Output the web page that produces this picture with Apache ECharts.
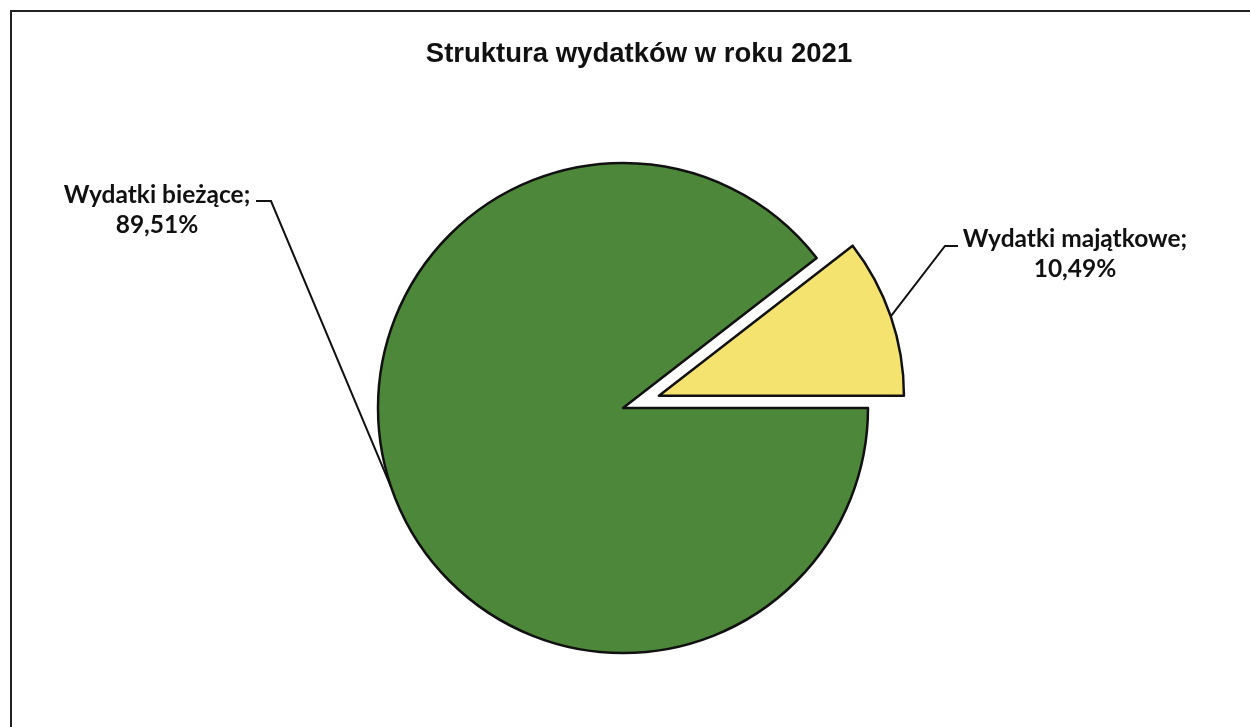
<!DOCTYPE html>
<html>
<head>
<meta charset="utf-8">
<script src="https://cdn.jsdelivr.net/npm/echarts@6/dist/echarts.min.js"></script>
<style>
html,body{margin:0;padding:0;background:#fff;}
#chart{width:1250px;height:727px;}
</style>
</head>
<body>
<div id="chart"></div>
<script>
// ---- data ----
const titleText = 'Struktura wydatków w roku 2021';
const categories = ['Wydatki bieżące', 'Wydatki majątkowe'];
const values = [89.51, 10.49];
const colors = ['#4d883a', '#f4e36f'];
const exploded = [false, true];

// ---- layout (positions / sizes only) ----
const pieCenter = [623, 408];
const pieRadius = 245;
const explodeDist = 38;
const startAngle = 0;
const labelPos = [
  {x: 157, y: 210, knee: [271, 201], end: [256, 201]},
  {x: 1075, y: 254, knee: [945, 246], end: [958, 246]}
];

const chart = echarts.init(document.getElementById('chart'), null, {renderer: 'canvas'});

const total = values.reduce((a, b) => a + b, 0);

function explodeCenter(idx) {
  // clockwise from startAngle
  let before = 0;
  for (let i = 0; i < idx; i++) before += values[i];
  const midFrac = (before + values[idx] / 2) / total;
  const ang = (startAngle - midFrac * 360) * Math.PI / 180;
  return [pieCenter[0] + explodeDist * Math.cos(ang), pieCenter[1] - explodeDist * Math.sin(ang)];
}

function makeSeries(showIdx, center) {
  return {
    type: 'pie',
    center: center,
    radius: pieRadius,
    startAngle: startAngle,
    clockwise: true,
    avoidLabelOverlap: false,
    emphasis: {disabled: true},
    silent: true,
    label: {
      show: true,
      position: 'outside',
      formatter: function (p) {
        return p.name + ';\n' + p.percent.toFixed(2).replace('.', ',') + '%';
      },
      fontFamily: 'Lato',
      fontWeight: 'bold',
      fontSize: 24.5,
      lineHeight: 30,
      color: '#111',
      align: 'center'
    },
    labelLine: {
      show: true,
      length: 20,
      length2: 10,
      lineStyle: {color: '#111', width: 2}
    },
    labelLayout: function (params) {
      const lp = labelPos[params.dataIndex];
      const pts = params.labelLinePoints;
      if (!pts) return {};
      return {
        x: lp.x,
        y: lp.y,
        align: 'center',
        verticalAlign: 'middle',
        labelLinePoints: [pts[0], lp.knee, lp.end]
      };
    },
    data: categories.map((name, i) => {
      const visible = showIdx.indexOf(i) >= 0;
      return {
        name: name,
        value: values[i],
        itemStyle: visible
          ? {color: colors[i], borderColor: '#111', borderWidth: 2.5}
          : {color: 'rgba(0,0,0,0)', borderWidth: 0},
        label: {show: visible},
        labelLine: {show: visible}
      };
    })
  };
}

const baseIdx = [], explIdx = [];
exploded.forEach((e, i) => (e ? explIdx : baseIdx).push(i));

const series = [makeSeries(baseIdx, pieCenter)];
explIdx.forEach(i => series.push(makeSeries([i], explodeCenter(i))));

chart.setOption({
  backgroundColor: '#ffffff',
  animation: false,
  title: {
    text: titleText,
    left: 634,
    textAlign: 'center',
    top: 35,
    textStyle: {
      fontFamily: 'Liberation Sans',
      fontWeight: 'bold',
      fontSize: 27.5,
      color: '#111'
    }
  },
  graphic: [{
    type: 'rect',
    shape: {x: 11, y: 11, width: 1300, height: 800},
    style: {fill: 'none', stroke: '#222', lineWidth: 2},
    silent: true
  }],
  series: series
});
</script>
</body>
</html>
